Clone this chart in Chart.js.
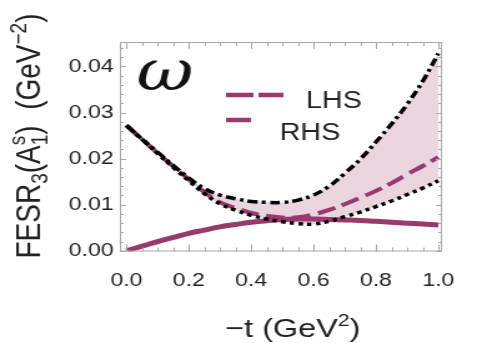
<!DOCTYPE html>
<html><head><meta charset="utf-8">
<script src="https://cdn.jsdelivr.net/npm/chart.js@4/dist/chart.umd.min.js"></script>
<style>html,body{margin:0;padding:0;background:#fff;overflow:hidden}#c{display:block;width:477px;height:343px}</style>
</head><body><canvas id="c" width="382" height="343" style="width:477px;height:343px"></canvas>
<script>
const tValues  = [0.00,0.05,0.10,0.15,0.20,0.25,0.30,0.35,0.40,0.45,0.50,0.55,0.60,0.65,0.70,0.75,0.80,0.85,0.90,0.95,1.00];
const upperBand= [0.0272,0.0242,0.0214,0.0185,0.0158,0.0135,0.0121,0.0113,0.0107,0.0105,0.0105,0.0110,0.0121,0.0140,0.0168,0.0199,0.0236,0.0275,0.0318,0.0368,0.0428];
const lowerBand= [0.0272,0.0242,0.0211,0.0181,0.0152,0.0124,0.0102,0.0088,0.0077,0.0069,0.0063,0.0059,0.0058,0.0064,0.0074,0.0084,0.0096,0.0108,0.0122,0.0136,0.0152];
const lhsValues= [0.0272,0.0242,0.0212,0.0183,0.0155,0.0127,0.0105,0.0093,0.0082,0.0076,0.0072,0.0073,0.0079,0.0089,0.0101,0.0115,0.0130,0.0147,0.0166,0.0184,0.0203];
const rhsValues= [0.0000,0.0010,0.0020,0.0029,0.0038,0.0045,0.0052,0.0057,0.0062,0.0065,0.0068,0.0069,0.0069,0.0068,0.0067,0.0066,0.0064,0.0062,0.0060,0.0058,0.0056];
const xTickLabels = ['0.0','0.2','0.4','0.6','0.8','1.0'];
const yTickLabels = ['0.00','0.01','0.02','0.03','0.04'];

const PURPLE = '#983a6c';
const pts = a => tValues.map((t,i)=>({x:t,y:a[i]}));

const framePlugin = {
  id:'frame',
  afterDatasetsDraw(chart){
    const {ctx, chartArea:a, scales:{x,y}} = chart;
    ctx.save();
    ctx.strokeStyle='#a8a8a8'; ctx.lineWidth=1;
    ctx.strokeRect(a.left+0.5,a.top+0.5,a.right-a.left-1,a.bottom-a.top-1);
    ctx.beginPath();
    for(let i=0;i<=20;i++){
      const v=i*0.05; const px=Math.round(x.getPixelForValue(v))+0.5;
      const L = (i%4===0)?7:4;
      ctx.moveTo(px,a.bottom); ctx.lineTo(px,a.bottom-L);
      ctx.moveTo(px,a.top); ctx.lineTo(px,a.top+L);
    }
    for(let i=0;i<=22;i++){
      const v=i*0.002; const py=Math.round(y.getPixelForValue(v))+0.5;
      const L = (i%5===0)?5:3;
      ctx.moveTo(a.left,py); ctx.lineTo(a.left+L,py);
      ctx.moveTo(a.right,py); ctx.lineTo(a.right-L,py);
    }
    ctx.stroke();
    // omega
    ctx.fillStyle='#111';
    ctx.font='italic 56px "DejaVu Serif"';
    ctx.textAlign='center'; ctx.textBaseline='alphabetic';
    ctx.fillText('ω',132,90);
    // legend
    ctx.strokeStyle=PURPLE; ctx.lineWidth=4.5; ctx.lineCap='butt';
    ctx.setLineDash([22,4]);
    ctx.beginPath(); ctx.moveTo(181,95); ctx.lineTo(227,95); ctx.stroke();
    ctx.setLineDash([]);
    ctx.beginPath(); ctx.moveTo(181,120); ctx.lineTo(201,120); ctx.stroke();
    ctx.fillStyle='#222'; ctx.font='23px "Liberation Sans"'; ctx.textAlign='left';
    ctx.fillText('LHS',245,108);
    ctx.fillText('RHS',224,140);
    ctx.restore();
  },
  afterDraw(chart){
    const ctx=chart.ctx;
    ctx.save();
    ctx.fillStyle='#222'; ctx.textBaseline='alphabetic'; ctx.textAlign='left';
    // x title
    const big='26px "Liberation Sans"', small='17px "Liberation Sans"';
    let s1='\u2212t (GeV', s2='2', s3=')';
    ctx.font=big; let w1=ctx.measureText(s1).width, w3=ctx.measureText(s3).width;
    ctx.font=small; let w2=ctx.measureText(s2).width;
    let tot=w1+w2+w3, x0=234.5-tot/2, yb=337;
    ctx.font=big; ctx.fillText(s1,x0,yb);
    ctx.font=small; ctx.fillText(s2,x0+w1,yb-11);
    ctx.font=big; ctx.fillText(s3,x0+w1+w2,yb);
    // y title (rotated)
    const yb2='28px "Liberation Sans"', ys2='19px "Liberation Sans"';
    ctx.translate(32,136); ctx.rotate(-Math.PI/2);
    const parts=[['FESR',yb2,0,true],['3',ys2,6,true],['(A',yb2,0,true],['s',ys2,-12,false],['1',ys2,6,true],[')  (GeV',yb2,0,true],['\u22122',ys2,-11,true],[')',yb2,0,true]];
    const widths=parts.map(p=>{ctx.font=p[1];return ctx.measureText(p[0]).width;});
    let total=0; parts.forEach((p,i)=>{ if(p[3]) total+=widths[i]; });
    let cx=-total/2;
    parts.forEach((p,i)=>{
      ctx.font=p[1]; ctx.fillText(p[0],cx,p[2]);
      if(p[3]) cx+=widths[i];
    });
    ctx.restore();
  }
};

new Chart(document.getElementById('c'),{
  type:'line',
  data:{datasets:[
    {data:pts(upperBand),borderColor:'#000',borderWidth:3.5,borderDash:[8,3.5,3,3.5],fill:{target:1},backgroundColor:'#ead4e0',pointRadius:0,tension:0.4},
    {data:pts(lowerBand),borderColor:'#000',borderWidth:3.5,borderDash:[3.5,3.5],fill:false,pointRadius:0,tension:0.4},
    {data:pts(lhsValues),borderColor:PURPLE,borderWidth:4,borderDash:[15,6],fill:false,pointRadius:0,tension:0.4},
    {data:pts(rhsValues),borderColor:PURPLE,borderWidth:5,fill:false,pointRadius:0,tension:0.4}
  ]},
  options:{
    responsive:false,animation:false,
    layout:{padding:{top:42,right:12,left:0,bottom:0}},
    plugins:{legend:{display:false},tooltip:{enabled:false},filler:{drawTime:'beforeDatasetsDraw'}},
    scales:{
      x:{type:'linear',min:-0.021,max:1.012,
        afterBuildTicks(s){s.ticks=xTickLabels.map(v=>({value:parseFloat(v)}));},
        afterFit(s){s.height=91.5;},
        grid:{display:false,drawTicks:false},border:{display:false},
        ticks:{callback:(v,i)=>xTickLabels[i],color:'#222',font:{family:'Liberation Sans',size:18.5},padding:18,maxRotation:0}},
      y:{min:-0.00015,max:0.0453,
        afterBuildTicks(s){s.ticks=yTickLabels.map(v=>({value:parseFloat(v)}));},
        afterFit(s){s.width=96;},
        grid:{display:false,drawTicks:false},border:{display:false},
        ticks:{callback:(v,i)=>yTickLabels[i],color:'#222',font:{family:'Liberation Sans',size:18.5},padding:5}}
    }
  },
  plugins:[framePlugin]
});
</script></body></html>
